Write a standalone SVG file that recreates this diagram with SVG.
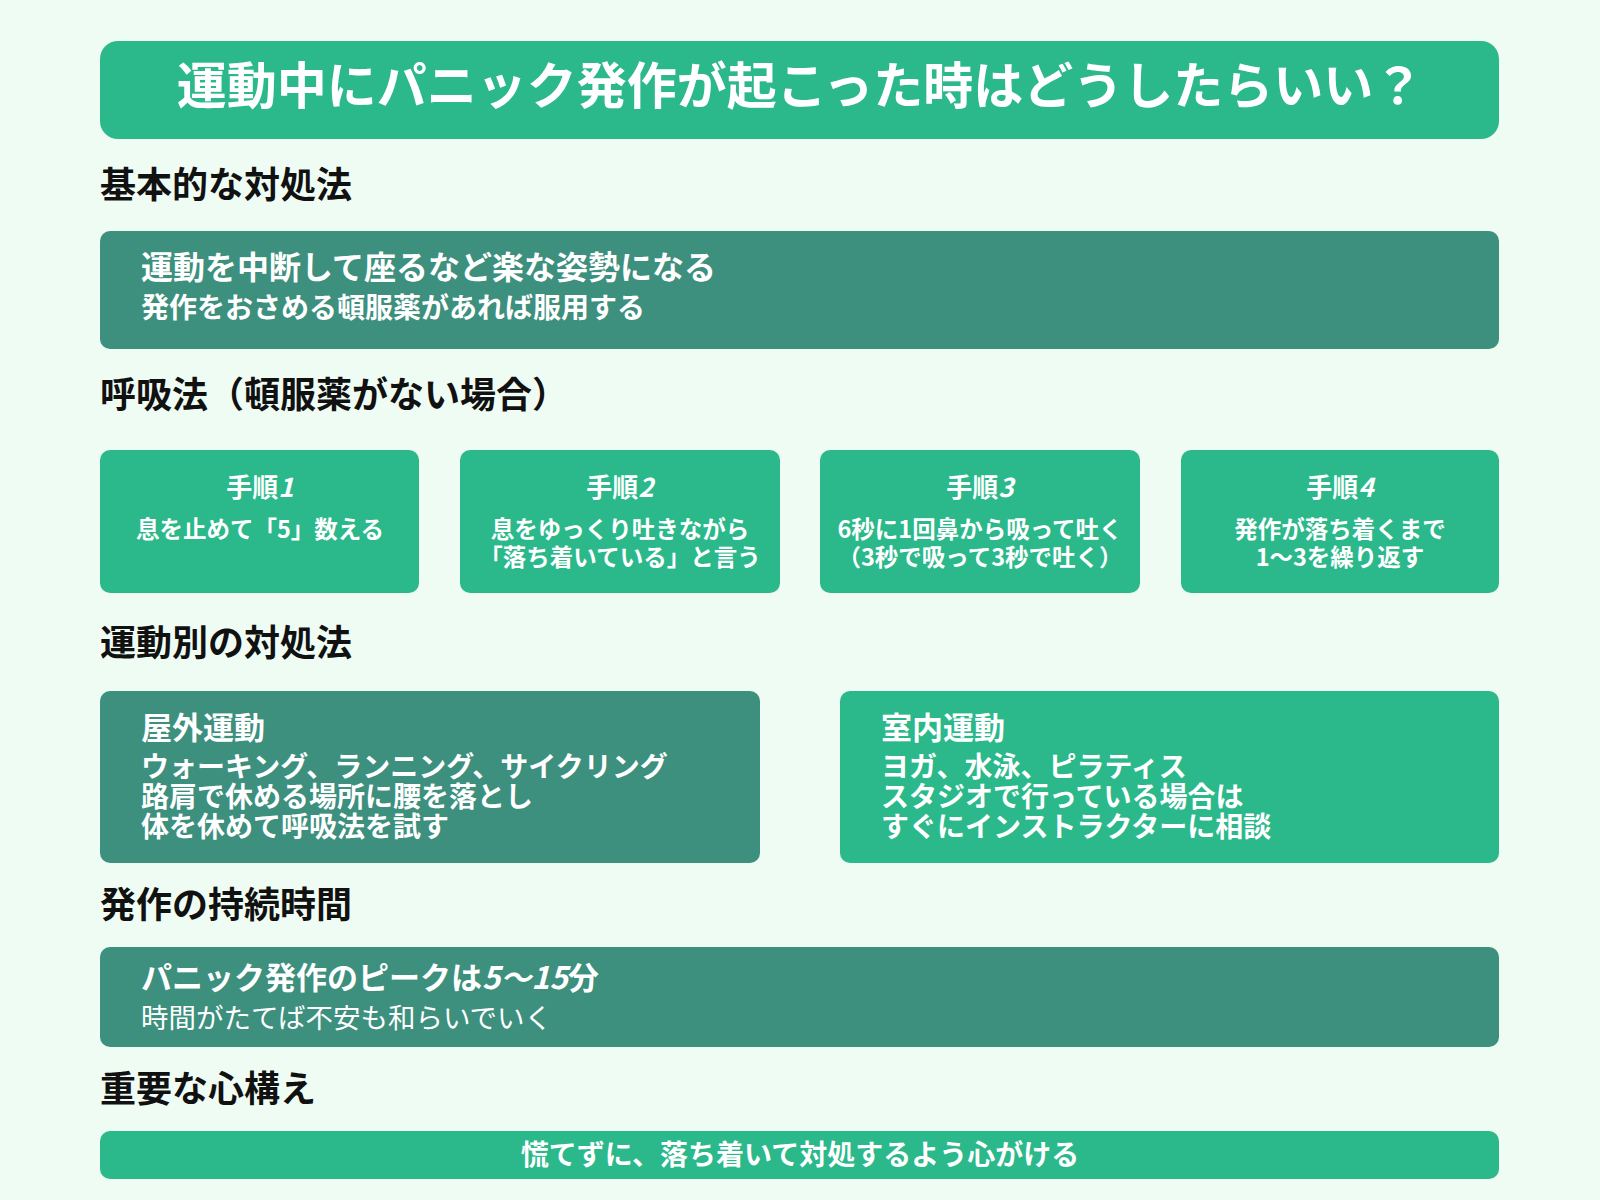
<svg xmlns="http://www.w3.org/2000/svg" width="1600" height="1200" viewBox="0 0 1600 1200">
<style>
text{font-family:"Noto Sans CJK JP","Noto Sans",sans-serif;font-weight:700;fill:#fff}
.h{fill:#111;font-size:36px}
.g{fill:#2bb88b}
.d{fill:#3d8f7e}
.c{text-anchor:middle}
</style>
<rect width="1600" height="1200" fill="#effcf3"/>
<g id="title"><rect class="g" x="100" y="41" width="1399" height="98" rx="18"/>
<text x="800" y="104" class="c" font-size="50">運動中にパニック発作が起こった時はどうしたらいい？</text></g>
<text class="h" x="100" y="198">基本的な対処法</text>
<g id="basic"><rect class="d" x="100" y="231" width="1399" height="118" rx="10"/>
<text x="141" y="279" font-size="32">運動を中断して座るなど楽な姿勢になる</text>
<text x="141" y="318" font-size="28">発作をおさめる頓服薬があれば服用する</text></g>
<text class="h" x="100" y="408">呼吸法（頓服薬がない場合）</text>
<g id="step1"><rect class="g" x="100" y="450" width="319" height="143" rx="10"/>
<text class="c" x="260" y="497" font-size="26">手順<tspan font-style="italic">1</tspan></text>
<text class="c" x="260" y="538" font-size="23.5">息を止めて「5」数える</text></g>
<g id="step2"><rect class="g" x="460" y="450" width="320" height="143" rx="10"/>
<text class="c" x="620" y="497" font-size="26">手順<tspan font-style="italic">2</tspan></text>
<text class="c" x="620" y="538" font-size="23.5">息をゆっくり吐きながら</text>
<text class="c" x="620" y="566" font-size="23.5">「落ち着いている」と言う</text></g>
<g id="step3"><rect class="g" x="820" y="450" width="320" height="143" rx="10"/>
<text class="c" x="980" y="497" font-size="26">手順<tspan font-style="italic">3</tspan></text>
<text class="c" x="980" y="538" font-size="23.5">6秒に1回鼻から吸って吐く</text>
<text class="c" x="980" y="566" font-size="23.5">（3秒で吸って3秒で吐く）</text></g>
<g id="step4"><rect class="g" x="1181" y="450" width="318" height="143" rx="10"/>
<text class="c" x="1340" y="497" font-size="26">手順<tspan font-style="italic">4</tspan></text>
<text class="c" x="1340" y="538" font-size="23.5">発作が落ち着くまで</text>
<text class="c" x="1340" y="566" font-size="23.5">1〜3を繰り返す</text></g>
<text class="h" x="100" y="656">運動別の対処法</text>
<g id="outdoor"><rect class="d" x="100" y="691" width="660" height="172" rx="10"/>
<text x="141" y="739" font-size="31">屋外運動</text>
<text x="141" y="777" font-size="28">ウォーキング、ランニング、サイクリング</text>
<text x="141" y="807" font-size="28">路肩で休める場所に腰を落とし</text>
<text x="141" y="837" font-size="28">体を休めて呼吸法を試す</text></g>
<g id="indoor"><rect class="g" x="840" y="691" width="659" height="172" rx="10"/>
<text x="881" y="739" font-size="31">室内運動</text>
<text x="881" y="777" font-size="28">ヨガ、水泳、ピラティス</text>
<text x="881" y="807" font-size="28">スタジオで行っている場合は</text>
<text x="881" y="837" font-size="28">すぐにインストラクターに相談</text></g>
<text class="h" x="100" y="918">発作の持続時間</text>
<g id="duration"><rect class="d" x="100" y="947" width="1399" height="100" rx="10"/>
<text x="141" y="989" font-size="31">パニック発作のピークは<tspan font-style="italic">5〜15</tspan>分</text>
<text x="141" y="1028" font-size="27.5" style="font-weight:400">時間がたてば不安も和らいでいく</text></g>
<text class="h" x="100" y="1102">重要な心構え</text>
<g id="mind"><rect class="g" x="100" y="1131" width="1399" height="48" rx="10"/>
<text class="c" x="800" y="1165" font-size="28">慌てずに、落ち着いて対処するよう心がける</text></g>
<g id="connectors"/>
</svg>
